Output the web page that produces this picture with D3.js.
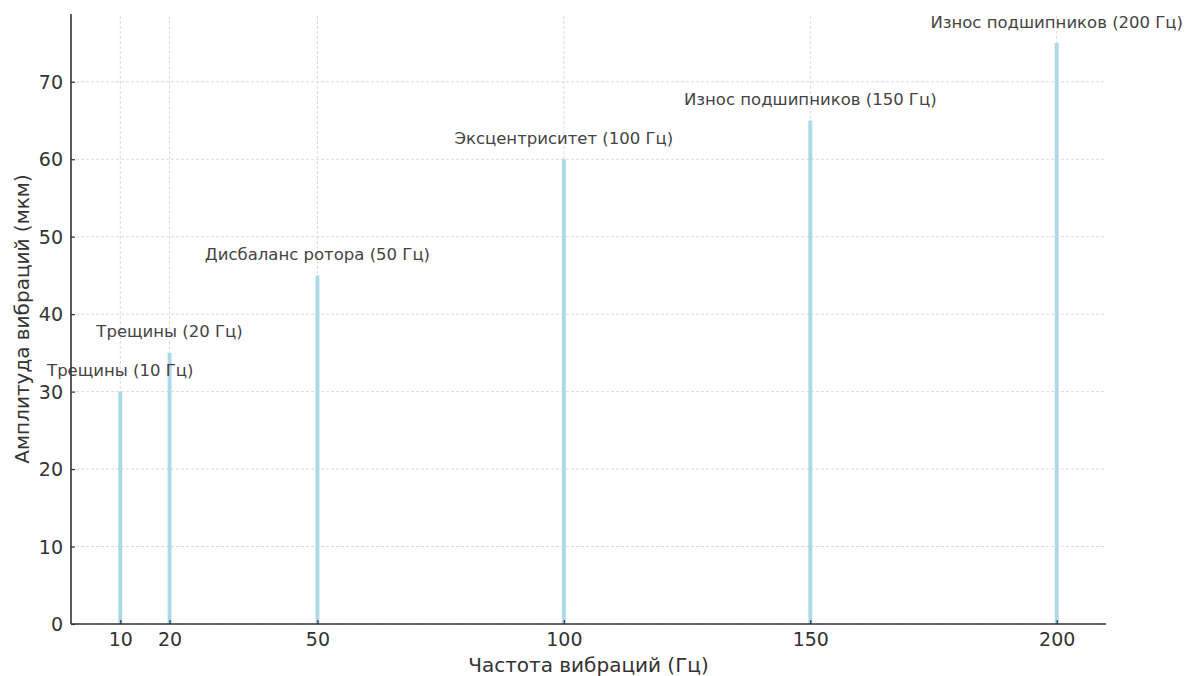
<!DOCTYPE html>
<html>
<head>
<meta charset="utf-8">
<script src="https://cdn.jsdelivr.net/npm/d3@7"></script>
<style>
  html, body { margin: 0; padding: 0; background: #fff; }
  svg { display: block; font-family: "DejaVu Sans", sans-serif; }
</style>
</head>
<body>
<svg id="chart" width="1187" height="676"></svg>
<script>
// Vibration spectrum: frequency (Hz), amplitude (µm), fault label
const frequencies = [10, 20, 50, 100, 150, 200];
const amplitudes = [30, 35, 45, 60, 65, 75];
const faults = [
  "Трещины (10 Гц)",
  "Трещины (20 Гц)",
  "Дисбаланс ротора (50 Гц)",
  "Эксцентриситет (100 Гц)",
  "Износ подшипников (150 Гц)",
  "Износ подшипников (200 Гц)"
];
const xTicks = [10, 20, 50, 100, 150, 200];
const yTicks = [0, 10, 20, 30, 40, 50, 60, 70];

const svg = d3.select("#chart");
const margin = { left: 71, right: 81, top: 14, bottom: 52 };
const W = 1187, H = 676;
const FONT = "'DejaVu Sans', sans-serif";

const x = d3.scaleLinear().domain([0, 210]).range([margin.left, W - margin.right]);
const y = d3.scaleLinear().domain([0, 78.75]).range([H - margin.bottom, margin.top]);

// grid
const grid = svg.append("g").attr("stroke", "#d0d0d0").attr("stroke-dasharray", "3,2").attr("stroke-width", 0.8);
grid.selectAll("line.gx").data(xTicks).join("line")
  .attr("x1", d => x(d)).attr("x2", d => x(d))
  .attr("y1", y.range()[0]).attr("y2", y.range()[1]);
grid.selectAll("line.gy").data(yTicks).join("line")
  .attr("y1", d => y(d)).attr("y2", d => y(d))
  .attr("x1", x.range()[0]).attr("x2", x.range()[1]);

// bars
const barW = 0.8;
svg.append("g").selectAll("rect").data(frequencies).join("rect")
  .attr("x", (d) => x(d - barW / 2))
  .attr("width", (d) => x(d + barW / 2) - x(d - barW / 2))
  .attr("y", (d, i) => y(amplitudes[i]))
  .attr("height", (d, i) => y(0) - y(amplitudes[i]))
  .attr("fill", "#add8e6");

// fault annotations
svg.append("g").selectAll("text").data(frequencies).join("text")
  .attr("x", d => x(d))
  .attr("y", (d, i) => y(amplitudes[i] + 2))
  .attr("text-anchor", "middle")
  .attr("font-family", FONT)
  .attr("font-size", 16.5)
  .attr("fill", "#444")
  .text((d, i) => faults[i]);

// axes
const xAxis = d3.axisBottom(x).tickValues(xTicks).tickSizeInner(-4).tickSizeOuter(0).tickPadding(5);
const yAxis = d3.axisLeft(y).tickValues(yTicks).tickSizeInner(-4).tickSizeOuter(0).tickPadding(8);

const gx = svg.append("g").attr("transform", `translate(0,${y(0)})`).call(xAxis);
const gy = svg.append("g").attr("transform", `translate(${x(0)},0)`).call(yAxis);
[gx, gy].forEach(g => {
  g.attr("font-family", FONT);
  g.select(".domain").attr("stroke", "#333").attr("stroke-width", 1.6);
  g.selectAll(".tick line").attr("stroke", "#333").attr("stroke-width", 1.2);
  g.selectAll(".tick text").attr("font-size", 19).attr("fill", "#333");
});
gx.selectAll(".tick text").attr("dy", "0.9em");
gy.selectAll(".tick text").attr("dy", "0.35em");
gx.select(".domain").attr("d", `M${x.range()[0]},0H${x.range()[1]}`);
gy.select(".domain").attr("d", `M0,${y.range()[0]}V${y.range()[1]}`);

// axis titles
svg.append("text")
  .attr("x", (x.range()[0] + x.range()[1]) / 2)
  .attr("y", 672)
  .attr("text-anchor", "middle")
  .attr("font-family", FONT)
  .attr("font-size", 20)
  .attr("fill", "#333")
  .text("Частота вибраций (Гц)");

svg.append("text")
  .attr("transform", `translate(29,${(y.range()[0] + y.range()[1]) / 2}) rotate(-90)`)
  .attr("text-anchor", "middle")
  .attr("font-family", FONT)
  .attr("font-size", 20)
  .attr("fill", "#333")
  .text("Амплитуда вибраций (мкм)");
</script>
</body>
</html>
